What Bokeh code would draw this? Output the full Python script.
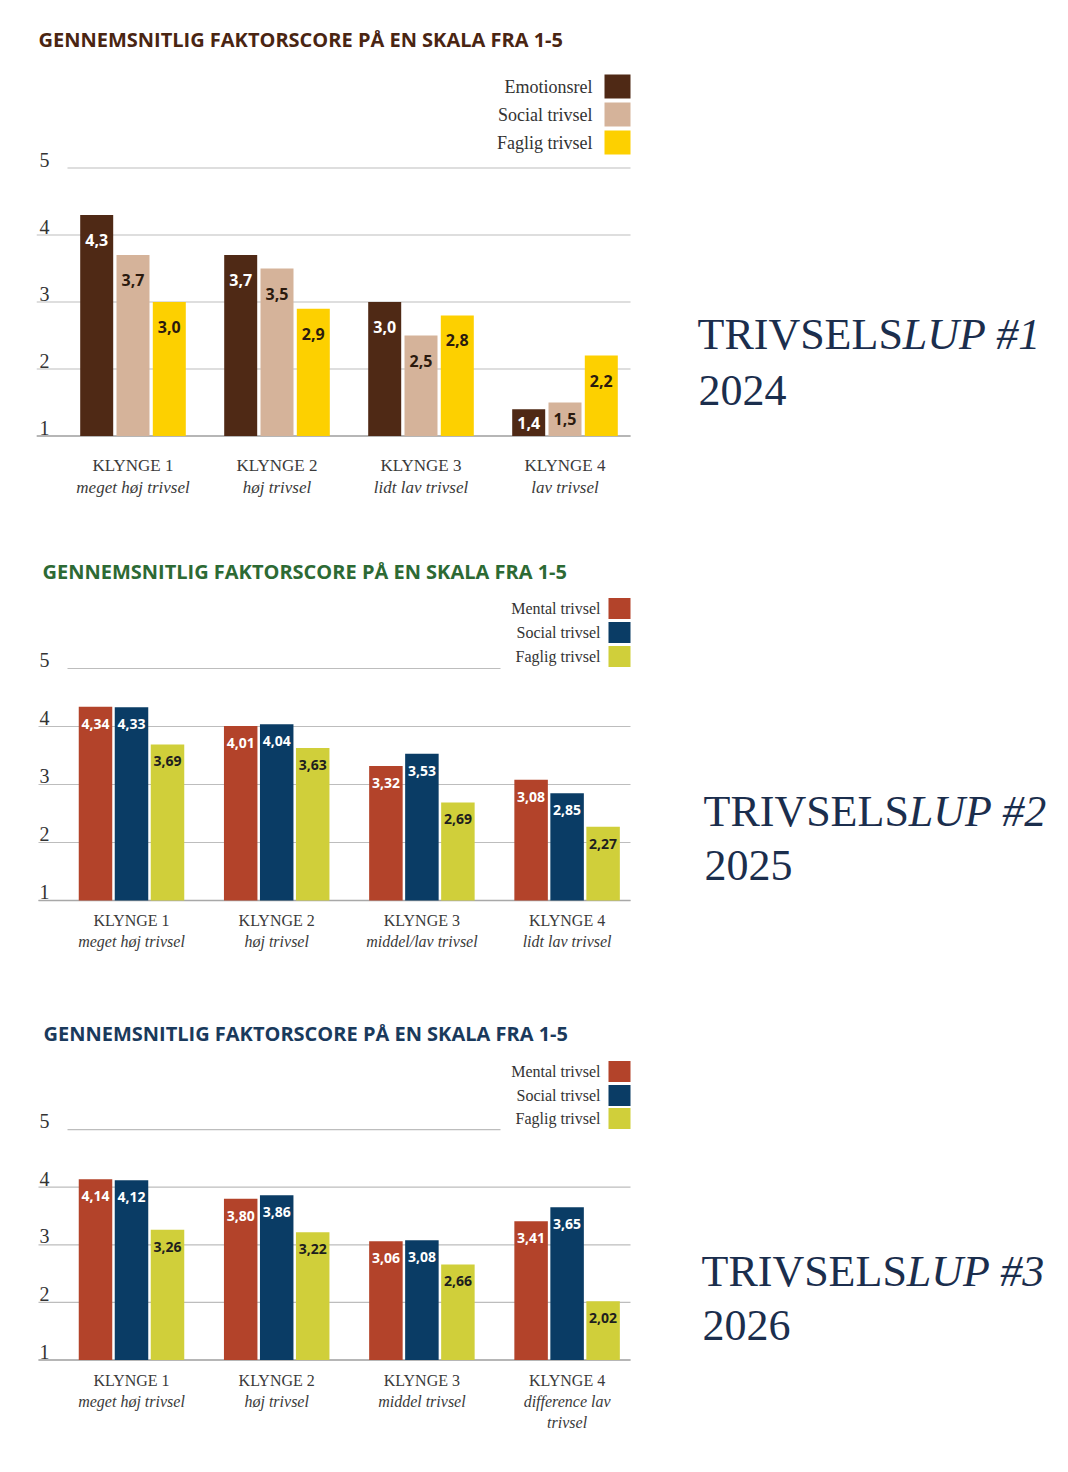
from bokeh.plotting import figure
from bokeh.layouts import column
from bokeh.models import Range1d
from bokeh.core.properties import value
from bokeh.embed import file_html
from bokeh.resources import INLINE

# ---------------- data ----------------
title_text = "GENNEMSNITLIG FAKTORSCORE PÅ EN SKALA FRA 1-5"
clusters = ["KLYNGE 1", "KLYNGE 2", "KLYNGE 3", "KLYNGE 4"]
y_ticks = [1, 2, 3, 4, 5]

sub_2024 = ["meget høj trivsel", "høj trivsel", "lidt lav trivsel", "lav trivsel"]
sub_2025 = ["meget høj trivsel", "høj trivsel", "middel/lav trivsel", "lidt lav trivsel"]
sub_2026 = ["meget høj trivsel", "høj trivsel", "middel trivsel", "difference lav\ntrivsel"]

series_2024 = ["Emotionsrel", "Social trivsel", "Faglig trivsel"]
series_2025 = ["Mental trivsel", "Social trivsel", "Faglig trivsel"]
series_2026 = ["Mental trivsel", "Social trivsel", "Faglig trivsel"]

emotionsrel_2024 = [4.3, 3.7, 3.0, 1.4]
social_2024 = [3.7, 3.5, 2.5, 1.5]
faglig_2024 = [3.0, 2.9, 2.8, 2.2]

mental_2025 = [4.34, 4.01, 3.32, 3.08]
social_2025 = [4.33, 4.04, 3.53, 2.85]
faglig_2025 = [3.69, 3.63, 2.69, 2.27]

mental_2026 = [4.14, 3.80, 3.06, 3.41]
social_2026 = [4.12, 3.86, 3.08, 3.65]
faglig_2026 = [3.26, 3.22, 2.66, 2.02]

edition_2024 = ("TRIVSELS", "LUP #1", "2024")
edition_2025 = ("TRIVSELS", "LUP #2", "2025")
edition_2026 = ("TRIVSELS", "LUP #3", "2026")

# ---------------- styles ----------------
colors_2024 = ["#4f2915", "#d5b39a", "#fdd000"]
labcol_2024 = ["#ffffff", "#2b1a0e", "#2b1a0e"]
colors_new = ["#b3432a", "#0a3c65", "#d0cf3a"]
labcol_new = ["#ffffff", "#ffffff", "#1e1e1e"]
NAVY = "#1b2e4d"
SERIF = "Liberation Serif"
SANS = "Open Sans"
PAGE_W = 1060


def fmt(v, dec):
    return f"{v:.{dec}f}".replace(".", ",")


def make_panel(g, title_color, subs, names, vals_list, colors, labcols, dec, edition):
    x0, ppx = g["x0"], g["ppx"]
    y1, ppy = g["y1"], g["ppy"]
    xd = lambda px: (px - x0) / ppx
    yd = lambda py: 1 + (y1 - py) / ppy

    top = g["top"]
    fl, fr, chart_r = 36, PAGE_W - 2, 630
    p = figure(width=PAGE_W, height=g["h"],
               x_range=Range1d(xd(fl), xd(fr)),
               y_range=Range1d(yd(g["fb"]), yd(g["ft"])),
               output_backend="svg", toolbar_location=None, tools="",
               x_axis_location=None, y_axis_location=None,
               min_border_left=fl, min_border_right=PAGE_W - fr,
               min_border_top=g["ft"] - top,
               min_border_bottom=top + g["h"] - g["fb"],
               outline_line_color=None, background_fill_color="white",
               border_fill_color="white")
    for gr in p.grid:
        gr.visible = False

    p.title.text = title_text
    p.title.text_font = SANS
    p.title.text_font_style = "bold"
    p.title.text_font_size = "20px"
    p.title.text_color = title_color
    p.title.align = "left"
    p.title.offset = g["toff"]
    p.title.standoff = 15

    # grid lines
    gx0 = [xd(g["gstart"])] * 4 + [xd(67)]
    gx1 = [xd(chart_r)] * 4 + [xd(g["g5end"])]
    p.segment(x0=gx0, x1=gx1, y0=y_ticks, y1=y_ticks,
              line_color="#bdbdbd", line_width=1.2)
    p.segment(x0=[xd(g["gstart"])], x1=[xd(chart_r)], y0=[y_ticks[0]], y1=[y_ticks[0]],
              line_color="#a8a8a8", line_width=1.5)

    # y tick labels (sitting just above their grid lines)
    p.text(x=[xd(49)] * len(y_ticks), y=y_ticks, text=[str(t) for t in y_ticks],
           text_font=value(SERIF), text_font_size=value("20px"),
           text_color="#333333", text_align="right", text_baseline="middle",
           y_offset=-8.5)

    # bars
    step = g["step"] / ppx
    bw = g["bw"] / ppx
    off = g["loff"] / ppy
    for j, vals in enumerate(vals_list):
        xs = [i + (j - 1) * step for i in range(len(vals))]
        p.vbar(x=xs, top=vals, bottom=1, width=bw, fill_color=colors[j], line_color=None)
        ly = [max(v - off, (1 + v) / 2) for v in vals]
        p.text(x=xs, y=ly, text=[fmt(v, dec) for v in vals],
               text_font=value(SANS), text_font_style="bold",
               text_font_size=value(g["vfs"]), text_color=labcols[j],
               text_align="center", text_baseline="middle")

    # category labels
    p.text(x=list(range(len(clusters))), y=[1 - g["c1"] / ppy] * len(clusters), text=clusters,
           text_font=value(SERIF), text_font_size=value(g["cfs"]), text_color="#3a3a3a",
           text_align="center", text_baseline="middle")
    for i, s in enumerate(subs):
        for k, line in enumerate(s.split("\n")):
            p.text(x=[i], y=[1 - (g["c2"] + k * 20.5) / ppy], text=[line],
                   text_font=value(SERIF), text_font_style="italic",
                   text_font_size=value(g["cfs"]), text_color="#3a3a3a",
                   text_align="center", text_baseline="middle")

    # legend (label left, swatch right)
    for k, name in enumerate(names):
        ry = yd(g["lrows"][k])
        p.rect(x=[xd(chart_r - g["sw"] / 2)], y=[ry], width=g["sw"], height=g["sh"],
               width_units="screen", height_units="screen",
               fill_color=colors[k], line_color=None)
        p.text(x=[xd(g["ltr"])], y=[ry], text=[name], text_font=value(SERIF),
               text_font_size=value(g["lfs"]), text_color="#333333",
               text_align="right", text_baseline="middle")

    # edition text on the right
    fs = 44
    rx = g["rx"]
    common = dict(text_font=value(SERIF), text_font_size=value(f"{fs}px"),
                  text_color=NAVY, text_baseline="middle")
    p.text(x=[xd(rx)], y=[yd(g["rc1"])], text=[edition[0]], **common)
    p.text(x=[xd(rx + 4.667 * fs)], y=[yd(g["rc1"])], text=[edition[1]],
           text_font_style="italic", **common)
    p.text(x=[xd(rx + 1)], y=[yd(g["rc2"])], text=[edition[2]], **common)
    return p


g1 = dict(top=0, h=530, ft=60, fb=522, y1=435.5, ppy=67.0, x0=132.5, ppx=144.0,
          step=36.3, bw=33.0, loff=25, vfs="16px", cfs="17px", c1=29.5, c2=51.5,
          lrows=[86, 114, 142], sw=26, sh=24, ltr=592, lfs="18px",
          gstart=36, g5end=630, rx=697, rc1=334, rc2=390, toff=2)
g2 = dict(top=530, h=468, ft=592, fb=990, y1=900, ppy=58.0, x0=131.0, ppx=145.2,
          step=36.0, bw=33.5, loff=17, vfs="14px", cfs="16px", c1=20, c2=41,
          lrows=[608, 632, 656], sw=22, sh=21, ltr=600, lfs="16px",
          gstart=38, g5end=500, rx=703, rc1=811, rc2=865, toff=6)
g3 = dict(top=998, h=466, ft=1054, fb=1456, y1=1359.5, ppy=57.6, x0=131.0, ppx=145.2,
          step=36.0, bw=33.5, loff=17, vfs="14px", cfs="16px", c1=20.5, c2=41.5,
          lrows=[1071, 1095, 1118], sw=22, sh=21, ltr=600, lfs="16px",
          gstart=38, g5end=500, rx=701, rc1=1271, rc2=1325, toff=7)

p1 = make_panel(g1, "#4a2512", sub_2024, series_2024,
                [emotionsrel_2024, social_2024, faglig_2024], colors_2024, labcol_2024, 1, edition_2024)
p2 = make_panel(g2, "#2d6a34", sub_2025, series_2025,
                [mental_2025, social_2025, faglig_2025], colors_new, labcol_new, 2, edition_2025)
p3 = make_panel(g3, "#1a3a5c", sub_2026, series_2026,
                [mental_2026, social_2026, faglig_2026], colors_new, labcol_new, 2, edition_2026)

layout = column(p1, p2, p3, spacing=0)
open("out.html", "w").write(file_html(layout, INLINE))
